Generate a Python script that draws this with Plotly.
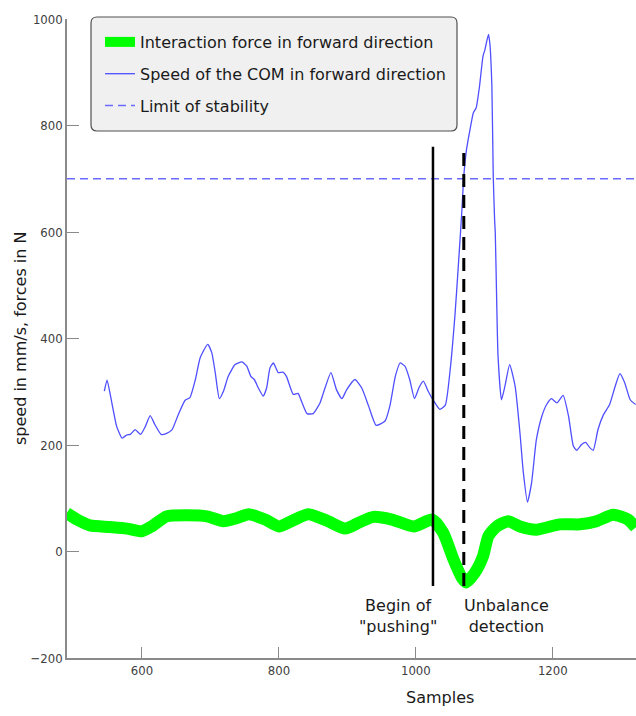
import plotly.graph_objects as go

# ---- data ----
speed_x = [545, 549, 556, 563, 571, 578, 583, 590, 598, 605, 612, 619, 628, 636, 644, 653, 663, 670,
           678, 685, 696, 702, 707, 713, 719, 726, 736, 746, 753, 759, 764, 770, 777, 782, 787, 792,
           799, 806, 811, 821, 828, 833, 841, 850, 860, 865, 876, 884, 892, 899, 911, 921, 931, 942,
           955, 962, 970, 977, 984, 991, 998, 1005, 1011, 1018, 1025, 1035, 1043, 1050, 1057, 1062,
           1067, 1070, 1074, 1079, 1084, 1088, 1093, 1098, 1101, 1106, 1108, 1111, 1113, 1115, 1116,
           1118, 1120, 1125, 1130, 1137, 1145, 1152, 1157, 1163, 1169, 1176, 1184, 1191, 1198, 1206,
           1215, 1223, 1230, 1235, 1242, 1248, 1254, 1259, 1266, 1274, 1283, 1291, 1298, 1305, 1313, 1321]
speed_y = [301, 322, 279, 235, 213, 219, 220, 229, 220, 235, 255, 238, 220, 222, 229, 257, 284, 289,
           323, 364, 389, 373, 336, 287, 301, 329, 351, 356, 348, 329, 323, 307, 292, 307, 345, 354,
           336, 337, 329, 295, 297, 282, 259, 259, 279, 298, 336, 304, 287, 304, 323, 307, 273, 237,
           245, 273, 329, 354, 348, 323, 287, 309, 320, 301, 285, 267, 275, 340, 442, 536,
           636, 705, 755, 792, 824, 833, 874, 930, 943, 971, 955, 874, 705, 623, 598,
           473, 367, 285, 310, 351, 310, 223, 148, 93, 129, 210, 254, 276, 287, 279,
           293, 254, 198, 190, 201, 205, 195, 190, 229, 257, 276, 310, 334, 317, 285, 276]

force_x = [490, 505, 524, 553, 578, 600, 614, 636, 666, 695, 719, 739, 756, 780, 800, 820, 843, 870,
           897, 918, 938, 965, 997, 1024, 1040, 1055, 1067, 1073, 1086, 1098, 1106, 1118, 1135, 1152,
           1176, 1210, 1240, 1264, 1288, 1310, 1321]
force_y = [72, 60, 49, 46, 43, 38, 47, 66, 68, 66, 57, 63, 70, 60, 47, 58, 70, 58,
           43, 55, 65, 60, 47, 60, 35, -15, -49, -58, -40, -9, 29, 47, 57, 47,
           41, 51, 51, 57, 69, 60, 45]

stability_limit = 700
x_range = [490.5, 1321.5]
y_range = [-200, 1000]
begin_push = 1025
unbalance = 1070
marker_y = [-65, 760]

legend_names = ["Interaction force in forward direction",
                "Speed of the COM in forward direction",
                "Limit of stability"]
x_ticks = [600, 800, 1000, 1200]
y_ticks = [-200, 0, 200, 400, 600, 800, 1000]

FONT = "DejaVu Sans"
TICKFONT = "DejaVu Sans Condensed"

fig = go.Figure()
fig.add_trace(go.Scatter(x=force_x, y=force_y, mode="lines", name=legend_names[0],
                         line=dict(color="#00ff00", width=12, shape="spline", smoothing=0.6),
                         legendgroup="a"))
fig.add_trace(go.Scatter(x=speed_x, y=speed_y, mode="lines", name=legend_names[1],
                         line=dict(color="#4f4fff", width=1.3, shape="spline", smoothing=0.5),
                         legendgroup="b"))
fig.add_trace(go.Scatter(x=x_range, y=[stability_limit, stability_limit], mode="lines",
                         name=legend_names[2],
                         line=dict(color="#6a6aff", width=1.5, dash="8px,5px"),
                         legendgroup="c"))
fig.add_trace(go.Scatter(x=[begin_push, begin_push], y=marker_y, mode="lines", showlegend=False,
                         line=dict(color="black", width=2.5)))
fig.add_trace(go.Scatter(x=[unbalance, unbalance], y=marker_y, mode="lines", showlegend=False,
                         line=dict(color="black", width=3, dash="13px,8px")))

W, H = 636, 716
L, R, T, B = 67, 0, 19, 58
pw, ph = W - L - R, H - T - B


def px2paper(xp, yp):
    return (xp - L) / pw, (H - B - yp) / ph


# rounded legend box
x0, y1 = px2paper(91, 17)
x1, y0 = px2paper(457, 131)
rx, ry = 6 / pw, 6 / ph
path = (f"M{x0+rx},{y0} L{x1-rx},{y0} Q{x1},{y0} {x1},{y0+ry} L{x1},{y1-ry} Q{x1},{y1} {x1-rx},{y1} "
        f"L{x0+rx},{y1} Q{x0},{y1} {x0},{y1-ry} L{x0},{y0+ry} Q{x0},{y0} {x0+rx},{y0} Z")
fig.add_shape(type="path", path=path, xref="paper", yref="paper",
              fillcolor="#f0f0f0", line=dict(color="#505050", width=1.2), layer="above")

lx, ly = px2paper(100, 25)

fig.update_layout(
    width=W, height=H,
    margin=dict(l=L, r=R, t=T, b=B, pad=0),
    paper_bgcolor="white", plot_bgcolor="white",
    font=dict(family=FONT, size=16, color="#1a1a1a"),
    showlegend=True,
    legend=dict(x=lx, y=ly, xanchor="left", yanchor="top", bgcolor="rgba(0,0,0,0)",
                borderwidth=0, font=dict(family=FONT, size=16, color="#1a1a1a"),
                traceorder="grouped", tracegroupgap=8, itemwidth=30),
    xaxis=dict(range=x_range, tickvals=x_ticks, showgrid=False, zeroline=False,
               showline=True, linecolor="#8a8a8a", linewidth=1.5,
               ticks="inside", ticklen=11, tickcolor="#8a8a8a", tickwidth=1.2,
               tickfont=dict(family=TICKFONT, size=13, color="#404040")),
    yaxis=dict(range=y_range, tickvals=y_ticks, showgrid=False, zeroline=False,
               showline=True, linecolor="#8a8a8a", linewidth=1.5,
               ticks="inside", ticklen=12, tickcolor="#8a8a8a", tickwidth=1.2,
               tickfont=dict(family=TICKFONT, size=13, color="#404040")),
)

ax, ay = px2paper(440, 697)
fig.add_annotation(text="Samples", xref="paper", yref="paper", x=ax, y=ay,
                   xanchor="center", yanchor="middle", showarrow=False,
                   font=dict(family=FONT, size=16, color="#1a1a1a"))
tx, ty = px2paper(20, 338)
fig.add_annotation(text="speed in mm/s, forces in N", xref="paper", yref="paper", x=tx, y=ty,
                   xanchor="center", yanchor="middle", showarrow=False, textangle=-90,
                   font=dict(family=FONT, size=16, color="#1a1a1a"))
fig.add_annotation(text="Begin of<br>\"pushing\"", x=974, y=-122, xref="x", yref="y",
                   showarrow=False, xanchor="center", yanchor="middle",
                   font=dict(family=FONT, size=16, color="#1a1a1a"))
fig.add_annotation(text="Unbalance<br>detection", x=1133, y=-122, xref="x", yref="y",
                   showarrow=False, xanchor="center", yanchor="middle",
                   font=dict(family=FONT, size=16, color="#1a1a1a"))

fig.write_html("out.html", config={"displayModeBar": False},
               post_script="document.body.style.margin='0';document.body.style.overflow='hidden';")
